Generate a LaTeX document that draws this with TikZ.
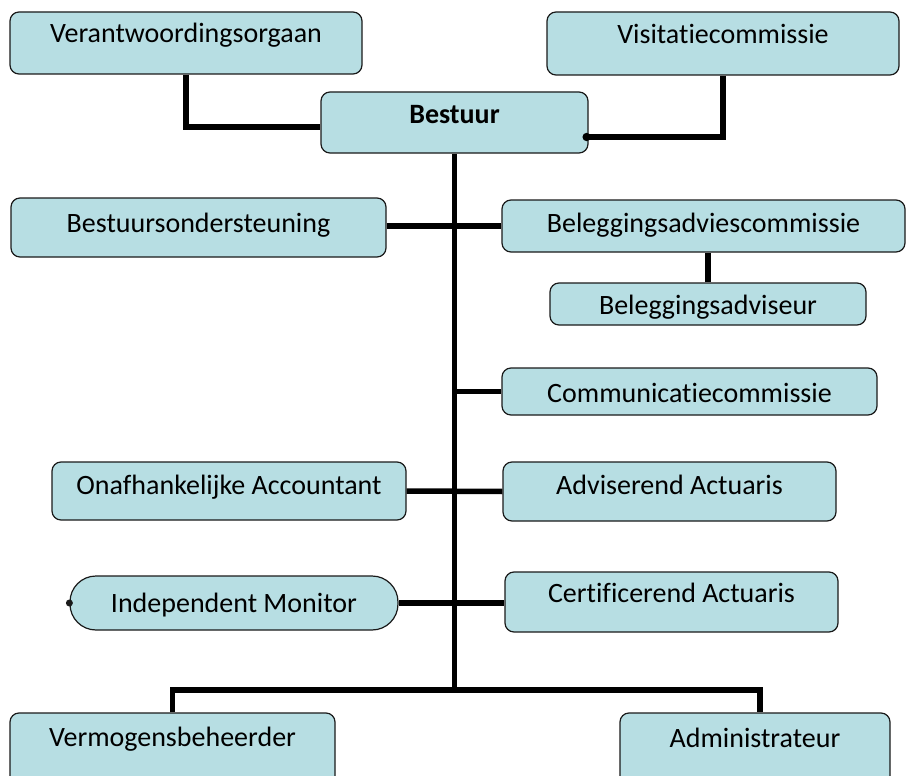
\documentclass[tikz,border=0pt]{standalone}
\usepackage{fontspec}
\setmainfont{Carlito}[Ligatures=NoCommon]
\usetikzlibrary{arrows.meta, calc}
\definecolor{boxfill}{HTML}{B7DEE3}
\definecolor{boxline}{HTML}{1A1A1A}

\begin{document}
\begin{tikzpicture}[x=1pt, y=-1pt,
    every node/.style={font=\fontsize{28}{34}\selectfont, align=center, inner sep=0pt},
    orgbox/.style={draw=boxline, line width=1.2pt, fill=boxfill, rounded corners=9pt},
    link/.style={line width=5.5pt}]
    \useasboundingbox (0,0) rectangle (906,776);

    % Top row
    \node[orgbox, minimum width=352pt, text height=31pt, text depth=31pt] (verant) at (186,43) {Verantwoordingsorgaan};
    \node[orgbox, minimum width=352pt, text height=32pt, text depth=31pt] (visit) at (723,43.5) {Visitatiecommissie};
    \node[orgbox, minimum width=267pt, text height=32pt, text depth=29pt] (bestuur) at (454.5,122.5) {\textbf{Bestuur}};

    % Nodes
    \node[orgbox, minimum width=375pt, text height=34pt, text depth=25pt] (onderst) at (198.5,227.5) {Bestuursondersteuning};
    \node[orgbox, minimum width=403pt, text height=32pt, text depth=20pt] (belcom) at (703.5,226) {Beleggingsadviescommissie};
    \node[orgbox, minimum width=316pt, text height=31pt, text depth=11pt] (beladv) at (708,304) {Beleggingsadviseur};
    \node[orgbox, minimum width=375pt, text height=34pt, text depth=13pt] (commu) at (689.5,391.5) {Communicatiecommissie};
    \node[orgbox, minimum width=354pt, text height=32pt, text depth=26pt] (account) at (229,491) {Onafhankelijke Accountant};
    \node[orgbox, minimum width=333pt, text height=32pt, text depth=27pt] (advis) at (669.5,491.5) {Adviserend Actuaris};
    \node[orgbox, rounded corners=26pt, minimum width=328pt, text height=36pt, text depth=18pt] (monitor) at (234,603) {Independent Monitor};
    \node[orgbox, minimum width=333pt, text height=30pt, text depth=30pt] (certif) at (671.5,602) {Certificerend Actuaris};

    % Bottom row
    \node[orgbox, minimum width=325pt, text height=33pt, text depth=44pt] (vermogen) at (172.5,751.5) {Vermogensbeheerder};
    \node[orgbox, minimum width=270pt, text height=34pt, text depth=43pt] (admin) at (755,751.5) {Administrateur};
    \coordinate (split) at (454.5,690);

    % Connectors
    \draw[link] (verant.south) |- ([yshift=-4.5pt]bestuur.west);
    \draw[link, -{Circle[length=8pt]}] (visit.south) |- ([xshift=-6pt, yshift=-14.5pt]bestuur.east);
    \draw[link] (bestuur.south) -- (split);
    \draw[link] (belcom.west -| onderst.east) -- (belcom.west);
    \draw[link] (beladv.north) -- (beladv.north |- belcom.south);
    \draw[link] (commu.west -| bestuur.south) -- (commu.west);
    \draw[link] (account.east) -- (advis.west);
    \draw[link] (monitor.east) -- (monitor.east -| certif.west);
    \fill[boxline] (monitor.west) circle (3.5pt);
    \draw[link] (vermogen.north) |- (split) -| ([xshift=5pt]admin.north);
\end{tikzpicture}
\end{document}
